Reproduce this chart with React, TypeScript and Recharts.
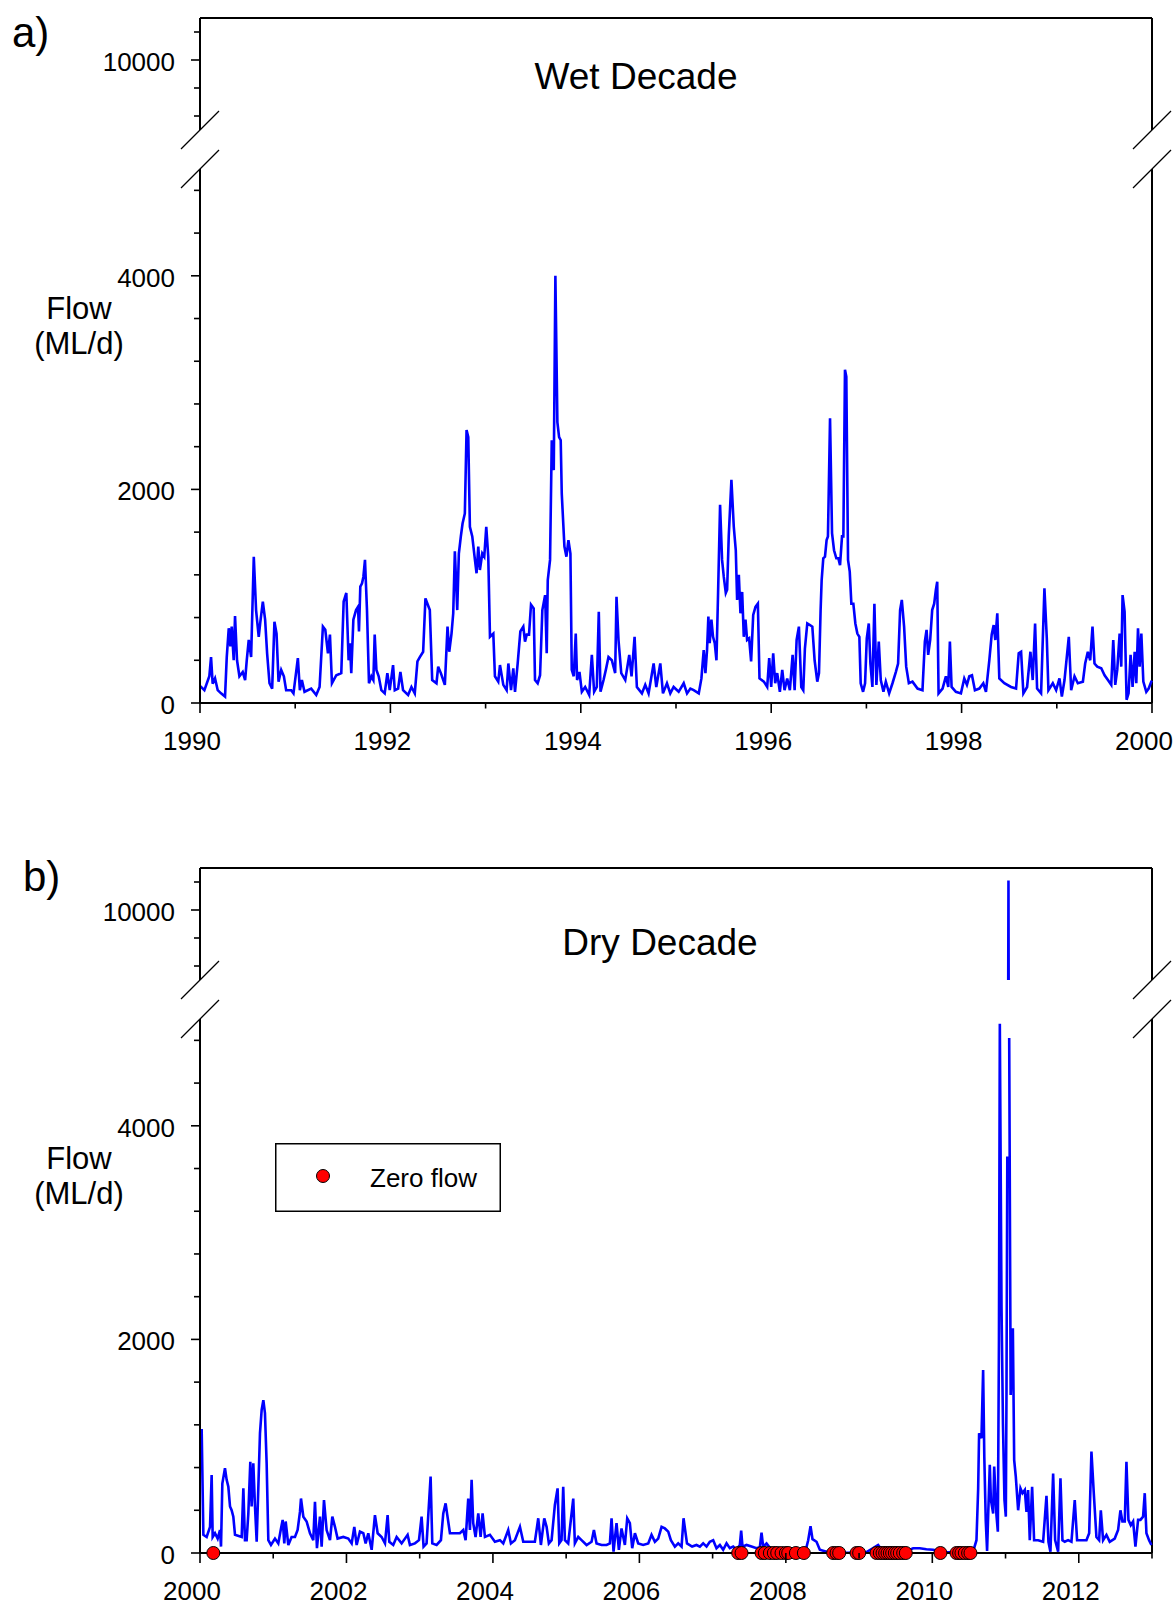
import React from "react";
import {
  ComposedChart, Line, Scatter, XAxis, YAxis, ReferenceLine, Legend
} from "recharts";

// daily flow (ML/d), [decimal year, flow]
const wetFlowEarly: [number, number][] = [
  [1990.000,160],[1990.046,120],[1990.098,250],[1990.116,430],[1990.133,180],[1990.158,230],[1990.186,120],[1990.221,90],
  [1990.263,60],[1990.281,430],[1990.302,700],[1990.319,530],[1990.333,715],[1990.354,400],[1990.368,815],[1990.389,400],
  [1990.414,250],[1990.449,290],[1990.474,215],[1990.491,400],[1990.512,590],[1990.537,430],[1990.565,1370],[1990.589,870],
  [1990.617,620],[1990.632,745],[1990.660,950],[1990.684,780],[1990.705,465],[1990.730,185],[1990.758,135],[1990.782,760],
  [1990.804,650],[1990.825,200],[1990.853,310],[1990.881,250],[1990.905,120],[1990.958,120],[1990.982,90],[1991.028,420],
  [1991.049,120],[1991.070,215],[1991.098,105],[1991.168,135],[1991.221,75],[1991.256,150],[1991.291,715],[1991.316,685],
  [1991.344,465],[1991.365,640],[1991.386,185],[1991.432,260],[1991.484,280],[1991.509,950],[1991.537,1030],[1991.561,400],
  [1991.575,560],[1991.589,280],[1991.611,780],[1991.639,870],[1991.660,900],[1991.670,670],[1991.684,1090],[1991.702,1120],
  [1991.716,1180],[1991.733,1340],[1991.754,870],[1991.775,185],[1991.800,250],[1991.821,215],[1991.835,640],[1991.853,310],
  [1991.877,250],[1991.905,120],[1991.940,90],[1991.968,280],[1991.993,120],[1992.028,355],[1992.046,120],[1992.081,135],
  [1992.105,290],[1992.133,120],[1992.186,75],[1992.221,150],[1992.256,90],[1992.284,390],[1992.309,430],[1992.344,480],
  [1992.368,980],[1992.389,930],[1992.414,870],[1992.439,215],[1992.484,185],[1992.502,340],[1992.530,280],[1992.572,170],
  [1992.600,715],[1992.618,480],[1992.642,650],[1992.660,840],[1992.677,1420],[1992.702,870],[1992.719,1400],[1992.740,1560],
  [1992.758,1680],[1992.782,1775],[1992.800,2555],[1992.818,2490],[1992.835,1650],[1992.860,1560],[1992.888,1340],[1992.905,1215],
  [1992.923,1465],[1992.940,1245],[1992.965,1400],[1992.986,1370],[1993.007,1650],[1993.028,1370],[1993.046,620],[1993.081,650],
  [1993.098,250],[1993.133,200],[1993.151,355],[1993.186,170],[1993.221,120],[1993.239,370],[1993.267,120],[1993.291,325],
  [1993.309,105],[1993.337,370],[1993.365,670],[1993.396,715],[1993.414,575],[1993.432,640],[1993.456,640],[1993.477,920],
  [1993.505,885],[1993.519,215],[1993.547,185],[1993.572,260],[1993.596,870],[1993.625,1010],[1993.642,465],[1993.653,1150],
  [1993.677,1340],[1993.695,2460],[1993.716,2180],[1993.733,4000],[1993.754,2630],[1993.772,2490],[1993.789,2460],[1993.800,1960],
  [1993.828,1465],[1993.849,1370],[1993.870,1525],[1993.891,1400],[1993.905,310],[1993.926,250],[1993.947,650],[1993.961,215],
  [1993.986,290],[1994.011,105],[1994.046,150],[1994.088,75],[1994.116,450],[1994.140,105],[1994.168,150],[1994.189,855],
  [1994.207,105],[1994.239,215],[1994.263,310],[1994.291,430],[1994.326,400],[1994.361,280],[1994.375,995],[1994.396,590],
  [1994.425,280],[1994.467,215],[1994.509,450],[1994.533,250],[1994.565,620],[1994.589,150],[1994.642,90],[1994.677,170],
  [1994.712,90],[1994.765,370],[1994.793,150],[1994.835,370],[1994.863,90],[1994.905,185],[1994.940,90],[1994.975,150],
  [1995.028,105],[1995.081,185],
];

const wetFlowLate: [number, number][] = [
  [1995.116,90],[1995.151,135],[1995.186,120],[1995.239,90],[1995.267,230],[1995.291,495],[1995.309,280],[1995.326,495],
  [1995.340,810],[1995.354,560],[1995.372,780],[1995.389,620],[1995.407,560],[1995.425,400],[1995.442,1030],[1995.463,1855],
  [1995.484,1340],[1995.502,1180],[1995.523,1030],[1995.537,1060],[1995.554,1560],[1995.582,2090],[1995.607,1650],[1995.628,1430],
  [1995.642,965],[1995.660,1200],[1995.677,840],[1995.695,1040],[1995.712,620],[1995.730,780],[1995.747,590],[1995.768,605],
  [1995.789,390],[1995.811,825],[1995.835,900],[1995.860,930],[1995.877,230],[1995.923,200],[1995.958,150],[1995.979,420],
  [1996.000,150],[1996.021,465],[1996.042,185],[1996.063,280],[1996.091,105],[1996.116,310],[1996.140,120],[1996.168,230],
  [1996.196,120],[1996.225,450],[1996.246,120],[1996.267,590],[1996.291,715],[1996.316,150],[1996.337,120],[1996.354,510],
  [1996.379,745],[1996.407,730],[1996.432,715],[1996.456,400],[1996.484,200],[1996.502,280],[1996.519,870],[1996.530,1150],
  [1996.547,1355],[1996.565,1370],[1996.582,1525],[1996.596,1560],[1996.618,2665],[1996.639,1590],[1996.660,1430],[1996.684,1355],
  [1996.705,1355],[1996.723,1290],[1996.744,1560],[1996.758,1560],[1996.775,3120],[1996.789,3055],[1996.807,1340],[1996.825,1230],
  [1996.842,930],[1996.863,930],[1996.884,745],[1996.905,650],[1996.926,620],[1996.940,185],[1996.965,105],[1996.986,185],
  [1997.004,605],[1997.025,745],[1997.042,370],[1997.063,150],[1997.084,930],[1997.105,170],[1997.130,575],[1997.151,215],
  [1997.179,105],[1997.204,200],[1997.239,90],[1997.274,185],[1997.309,290],[1997.333,370],[1997.354,870],[1997.372,965],
  [1997.396,715],[1997.418,340],[1997.446,185],[1997.484,200],[1997.537,135],[1997.589,120],[1997.614,575],[1997.632,685],
  [1997.649,450],[1997.670,590],[1997.691,870],[1997.712,930],[1997.730,1060],[1997.744,1135],[1997.758,90],[1997.800,135],
  [1997.835,250],[1997.860,150],[1997.877,575],[1997.895,150],[1997.940,105],[1997.993,90],[1998.028,230],[1998.056,170],
  [1998.081,250],[1998.109,260],[1998.140,120],[1998.186,135],[1998.228,185],[1998.256,105],[1998.291,400],[1998.316,640],
  [1998.337,730],[1998.354,590],[1998.375,840],[1998.396,230],[1998.449,185],[1998.519,150],[1998.572,135],[1998.600,465],
  [1998.625,480],[1998.649,90],[1998.688,150],[1998.723,480],[1998.747,215],[1998.772,745],[1998.793,135],[1998.835,90],
  [1998.870,1075],[1998.895,605],[1998.912,120],[1998.958,185],[1998.993,120],[1999.028,230],[1999.053,60],[1999.081,215],
  [1999.126,620],[1999.151,120],[1999.186,250],[1999.221,185],[1999.274,200],[1999.298,370],[1999.326,480],[1999.351,400],
  [1999.375,715],[1999.396,370],[1999.425,340],[1999.467,325],[1999.502,260],[1999.537,215],[1999.572,170],[1999.593,590],
  [1999.614,170],[1999.635,310],[1999.660,650],[1999.677,340],[1999.691,1010],[1999.712,855],[1999.733,30],[1999.754,90],
  [1999.775,450],[1999.796,150],[1999.818,480],[1999.835,185],[1999.853,700],[1999.870,340],[1999.888,650],[1999.909,200],
  [1999.940,105],[1999.965,135],[1999.993,200],[2000.000,210],
];

const dryFlowEarly: [number, number][] = [
  [2000.000,1150],[2000.023,1150],[2000.046,170],[2000.091,150],[2000.137,245],[2000.159,730],[2000.173,150],[2000.205,185],
  [2000.241,135],[2000.273,215],[2000.287,60],[2000.305,650],[2000.341,795],[2000.364,685],[2000.387,620],[2000.410,435],
  [2000.432,400],[2000.455,340],[2000.478,170],[2000.569,150],[2000.592,605],[2000.614,120],[2000.637,120],[2000.660,370],
  [2000.687,855],[2000.705,435],[2000.728,840],[2000.751,435],[2000.774,105],[2000.819,1120],[2000.842,1340],[2000.865,1430],
  [2000.887,1310],[2000.910,840],[2000.933,120],[2000.969,75],[2001.024,135],[2001.069,90],[2001.106,230],[2001.129,310],
  [2001.151,90],[2001.170,295],[2001.206,75],[2001.251,150],[2001.297,150],[2001.333,215],[2001.365,385],[2001.379,510],
  [2001.411,340],[2001.456,295],[2001.502,185],[2001.547,120],[2001.570,480],[2001.597,45],[2001.638,340],[2001.661,60],
  [2001.693,495],[2001.729,215],[2001.775,120],[2001.807,340],[2001.843,245],[2001.879,135],[2001.957,150],[2002.025,135],
  [2002.071,90],[2002.107,245],[2002.139,75],[2002.184,200],[2002.230,185],[2002.262,90],[2002.298,185],[2002.344,30],
  [2002.389,355],[2002.426,185],[2002.480,150],[2002.526,90],[2002.562,355],[2002.585,105],[2002.639,75],[2002.685,150],
  [2002.753,90],[2002.835,170],[2002.867,75],[2002.935,90],[2002.990,120],[2003.026,340],[2003.053,60],[2003.094,90],
  [2003.149,715],[2003.172,90],[2003.231,75],[2003.290,120],[2003.322,370],[2003.354,465],[2003.377,355],[2003.413,185],
  [2003.481,185],[2003.549,185],[2003.595,215],[2003.627,120],[2003.663,510],[2003.686,215],[2003.709,685],[2003.731,280],
  [2003.763,150],[2003.800,370],[2003.832,150],[2003.859,370],[2003.891,150],[2003.959,170],[2004.027,105],[2004.096,120],
  [2004.141,90],[2004.209,215],[2004.246,90],[2004.300,120],[2004.369,245],[2004.414,105],[2004.482,105],[2004.573,105],
  [2004.619,325],[2004.655,75],[2004.701,325],[2004.733,245],[2004.764,90],[2004.801,120],[2004.846,450],[2004.883,605],
  [2004.906,90],[2004.937,120],[2004.960,620],[2004.983,120],[2005.028,90],[2005.097,510],[2005.119,90],[2005.165,150],
  [2005.210,120],[2005.279,75],[2005.347,105],[2005.379,215],[2005.415,90],[2005.484,75],[2005.552,75],[2005.597,90],
  [2005.620,325],[2005.647,12],[2005.688,280],[2005.720,30],[2005.756,230],[2005.802,75],[2005.834,325],[2005.870,280],
  [2005.902,45],[2005.939,185],[2005.984,90],[2006.052,75],[2006.121,90],[2006.166,170],[2006.212,105],[2006.257,135],
  [2006.303,245],[2006.348,230],[2006.394,200],[2006.430,120],[2006.485,60],[2006.530,90],[2006.576,60],[2006.603,325],
  [2006.650,90],[2006.720,60],[2006.780,75],
];

const dryFlowLate: [number, number][] = [
  [2006.826,60],[2006.871,90],[2006.917,60],[2006.962,105],[2007.008,120],[2007.053,45],[2007.099,75],[2007.144,30],
  [2007.190,90],[2007.235,45],[2007.281,60],[2007.327,30],[2007.372,75],[2007.390,210],[2007.408,60],[2007.463,75],
  [2007.531,60],[2007.599,45],[2007.645,55],[2007.668,190],[2007.690,60],[2007.736,90],[2007.804,30],[2007.873,30],
  [2007.941,30],[2008.009,12],[2008.100,12],[2008.191,12],[2008.273,30],[2008.305,120],[2008.337,250],[2008.364,130],
  [2008.419,105],[2008.464,30],[2008.555,12],[2008.646,12],[2008.737,6],[2008.828,3],[2008.965,3],[2009.101,9],
  [2009.192,45],[2009.260,75],[2009.329,12],[2009.420,12],[2009.556,9],[2009.647,18],[2009.738,45],[2009.829,45],
  [2009.920,35],[2010.011,30],[2010.102,18],[2010.193,6],[2010.284,6],[2010.375,6],[2010.466,12],[2010.557,12],
  [2010.603,120],[2010.626,600],[2010.639,1121],[2010.671,1074],[2010.694,1714],[2010.710,900],[2010.730,300],[2010.748,20],
  [2010.765,400],[2010.785,825],[2010.800,500],[2010.831,370],[2010.845,810],[2010.876,355],[2010.895,200],[2010.910,2000],
  [2010.922,4956],[2010.945,2307],[2010.965,1200],[2010.985,500],[2011.004,340],[2011.013,1500],[2011.024,3713],[2011.040,10420],
  [2011.050,4822],[2011.070,1480],[2011.100,2105],[2011.118,870],[2011.140,715],[2011.172,400],[2011.204,605],[2011.232,560],
  [2011.263,590],[2011.286,385],[2011.308,590],[2011.331,120],[2011.363,620],[2011.390,120],[2011.445,120],[2011.513,105],
  [2011.559,535],[2011.586,105],[2011.613,12],[2011.650,745],[2011.677,120],[2011.718,12],[2011.750,700],[2011.777,120],
  [2011.809,105],[2011.854,120],[2011.900,105],[2011.945,495],[2011.977,120],[2012.036,120],[2012.105,120],[2012.142,185],
  [2012.173,950],[2012.205,560],[2012.241,150],[2012.278,120],[2012.301,400],[2012.332,120],[2012.378,170],[2012.423,105],
  [2012.491,135],[2012.537,215],[2012.569,400],[2012.596,295],[2012.628,295],[2012.651,855],[2012.678,310],[2012.710,260],
  [2012.742,295],[2012.774,60],[2012.810,310],[2012.842,310],[2012.878,340],[2012.901,560],[2012.924,185],[2012.960,120],
  [2012.992,75],
];

// days with zero flow (decimal year)
const zeroFlowDays = [
  2000.182, 2007.349, 2007.395, 2007.668, 2007.713, 2007.782, 2007.836, 2007.882, 2007.941, 2008.000,
  2008.032, 2008.137, 2008.246, 2008.646, 2008.692, 2008.728, 2008.965, 2009.001, 2009.238, 2009.283,
  2009.320, 2009.356, 2009.388, 2009.420, 2009.452, 2009.488, 2009.520, 2009.556, 2009.602, 2009.638,
  2010.111, 2010.330, 2010.366, 2010.398, 2010.444, 2010.489, 2010.521,
];

const wetYears = [1990, 1991, 1992, 1993, 1994, 1995, 1996, 1997, 1998, 1999, 2000];
const wetYearLabels = [1990, 1992, 1994, 1996, 1998, 2000];
const dryYears = [2000, 2001, 2002, 2003, 2004, 2005, 2006, 2007, 2008, 2009, 2010, 2011, 2012, 2013];
const dryYearLabels = [2000, 2002, 2004, 2006, 2008, 2010, 2012];

const upperDomain: [number, number] = [9000, 10600];
const lowerDomain: [number, number] = [0, 5000];
const upperTicks = [9200, 9600, 10000, 10400];
const lowerTicks = [0, 400, 800, 1200, 1600, 2000, 2400, 2800, 3200, 3600, 4000, 4400, 4800];
const flowLabels = [0, 2000, 4000, 10000];

const FONT = "'Liberation Sans', Arial, sans-serif";
const BLUE = "#0000FF";
const UPPER_H = 112;
const GAP = 39;
const LOWER_H = 534;
const X_AXIS_H = 54;

const YTick = (props: any) => {
  const { x, y, payload } = props;
  const major = flowLabels.includes(payload.value);
  return (
    <g>
      <line x1={x - (major ? 9 : 6)} x2={x} y1={y} y2={y} stroke="#000" strokeWidth={1.6} />
      {major && (
        <text x={x - 25} y={y + 11} textAnchor="end" fontSize={26} fontFamily={FONT} fill="#000">
          {payload.value}
        </text>
      )}
    </g>
  );
};

const XTick = (props: any) => {
  const { x, y, payload, labels } = props;
  const major = labels.includes(payload.value);
  return (
    <g>
      <line x1={x} x2={x} y1={y} y2={y + (major ? 10 : 5.5)} stroke="#000" strokeWidth={1.6} />
      {major && (
        <text x={x - 8} y={y + 47} textAnchor="middle" fontSize={26} fontFamily={FONT} fill="#000">
          {payload.value}
        </text>
      )}
    </g>
  );
};

const ZeroDot = (props: any) => (
  <circle cx={props.cx} cy={props.cy} r={6.5} fill="#FF0000" stroke="#000" strokeWidth={1} />
);

const ZeroLegend = () => (
  <svg width={226} height={69}>
    <rect x={0.75} y={0.75} width={224.5} height={67.5} fill="#fff" stroke="#000" strokeWidth={1.5} />
    <circle cx={48} cy={33} r={6.5} fill="#FF0000" stroke="#000" strokeWidth={1} />
    <text x={95} y={44} fontSize={26} fontFamily={FONT} fill="#000">Zero flow</text>
  </svg>
);

interface PanelProps {
  top: number;
  series: { t: number; v: number }[];
  years: number[];
  yearLabels: number[];
  zeroFlow?: { t: number; v: number }[];
}

const axisStroke = { stroke: "#000", strokeWidth: 2 };

const BrokenPanel: React.FC<PanelProps> = ({ top, series, years, yearLabels, zeroFlow }) => {
  const xDomain: [number, number] = [years[0], years[years.length - 1]];
  const lowerSeries = series.map((p) => ({ t: p.t, v: p.v > lowerDomain[1] ? null : p.v }));
  const lowerTop = top + UPPER_H + GAP;

  return (
    <>
      <div style={{ position: "absolute", left: 0, top: top - 2 }}>
        <ComposedChart width={1176} height={UPPER_H + 4} data={series}
          margin={{ top: 2, right: 24, bottom: 2, left: 0 }}>
          <XAxis type="number" dataKey="t" domain={xDomain} hide allowDataOverflow />
          <YAxis type="number" domain={upperDomain} ticks={upperTicks} interval={0} allowDataOverflow
            width={200} tick={<YTick />} tickLine={false} tickSize={0} tickMargin={0} axisLine={axisStroke} />
          <ReferenceLine y={upperDomain[1]} stroke="#000" strokeWidth={2} />
          <ReferenceLine x={xDomain[1]} stroke="#000" strokeWidth={2} />
          <Line type="linear" dataKey="v" stroke={BLUE} strokeWidth={2.6} dot={false} isAnimationActive={false} />
        </ComposedChart>
      </div>
      <div style={{ position: "absolute", left: 0, top: lowerTop - 2 }}>
        <ComposedChart width={1176} height={LOWER_H + 2 + X_AXIS_H} data={lowerSeries}
          margin={{ top: 2, right: 24, bottom: 0, left: 0 }}>
          <XAxis type="number" dataKey="t" domain={xDomain} ticks={years} interval={0} height={X_AXIS_H}
            tick={<XTick labels={yearLabels} />} tickLine={false} tickSize={0} tickMargin={0} axisLine={axisStroke} />
          <YAxis type="number" domain={lowerDomain} ticks={lowerTicks} interval={0}
            width={200} tick={<YTick />} tickLine={false} tickSize={0} tickMargin={0} axisLine={axisStroke} />
          <YAxis yAxisId="dots" type="number" domain={lowerDomain} hide />
          <ReferenceLine x={xDomain[1]} stroke="#000" strokeWidth={2} />
          <Line type="linear" dataKey="v" stroke={BLUE} strokeWidth={2.6} dot={false} isAnimationActive={false} />
          {zeroFlow && (
            <Scatter data={zeroFlow} yAxisId="dots" dataKey="v" shape={<ZeroDot />} isAnimationActive={false} />
          )}
          {zeroFlow && (
            <Legend layout="horizontal" verticalAlign="middle" align="center" content={<ZeroLegend />}
              wrapperStyle={{ left: 275, top: 1143 - (lowerTop - 2), width: 226, height: 69 }} />
          )}
        </ComposedChart>
      </div>
    </>
  );
};

// slash marks where the flow axis is broken
const BreakMarks = ({ y1, y2 }: { y1: number; y2: number }) => (
  <>
    {[200, 1152].map((x) =>
      [y1, y2].map((y) => (
        <line key={`${x}-${y}`} x1={x - 19} y1={y + 19} x2={x + 19} y2={y - 19} stroke="#000" strokeWidth={1.3} />
      ))
    )}
  </>
);

const toPoints = (rows: [number, number][]) => rows.map(([t, v]) => ({ t, v }));

export default function App() {
  const wet = toPoints([...wetFlowEarly, ...wetFlowLate]);
  const dry = toPoints([...dryFlowEarly, ...dryFlowLate]);
  const zeros = zeroFlowDays.map((t) => ({ t, v: 0 }));
  const aTop = 18;
  const bTop = 868;

  return (
    <div style={{ position: "absolute", left: 0, top: 0, width: 1176, height: 1607, overflow: "hidden", background: "#fff" }}>
      <BrokenPanel top={aTop} series={wet} years={wetYears} yearLabels={wetYearLabels} />
      <BrokenPanel top={bTop} series={dry} years={dryYears} yearLabels={dryYearLabels} zeroFlow={zeros} />
      <svg width={1176} height={1607} style={{ position: "absolute", left: 0, top: 0, pointerEvents: "none" }}>
        <g fontFamily={FONT} fill="#000">
          <text x={12} y={47} fontSize={42}>a)</text>
          <text x={23} y={891} fontSize={42}>b)</text>
          <text x={636} y={89} fontSize={37} textAnchor="middle">Wet Decade</text>
          <text x={660} y={955} fontSize={37} textAnchor="middle">Dry Decade</text>
          <text x={79} y={319} fontSize={31} textAnchor="middle">Flow</text>
          <text x={79} y={354} fontSize={31} textAnchor="middle">(ML/d)</text>
          <text x={79} y={1169} fontSize={31} textAnchor="middle">Flow</text>
          <text x={79} y={1204} fontSize={31} textAnchor="middle">(ML/d)</text>
        </g>
        <BreakMarks y1={aTop + UPPER_H} y2={aTop + UPPER_H + GAP} />
        <BreakMarks y1={bTop + UPPER_H} y2={bTop + UPPER_H + GAP} />
      </svg>
    </div>
  );
}
